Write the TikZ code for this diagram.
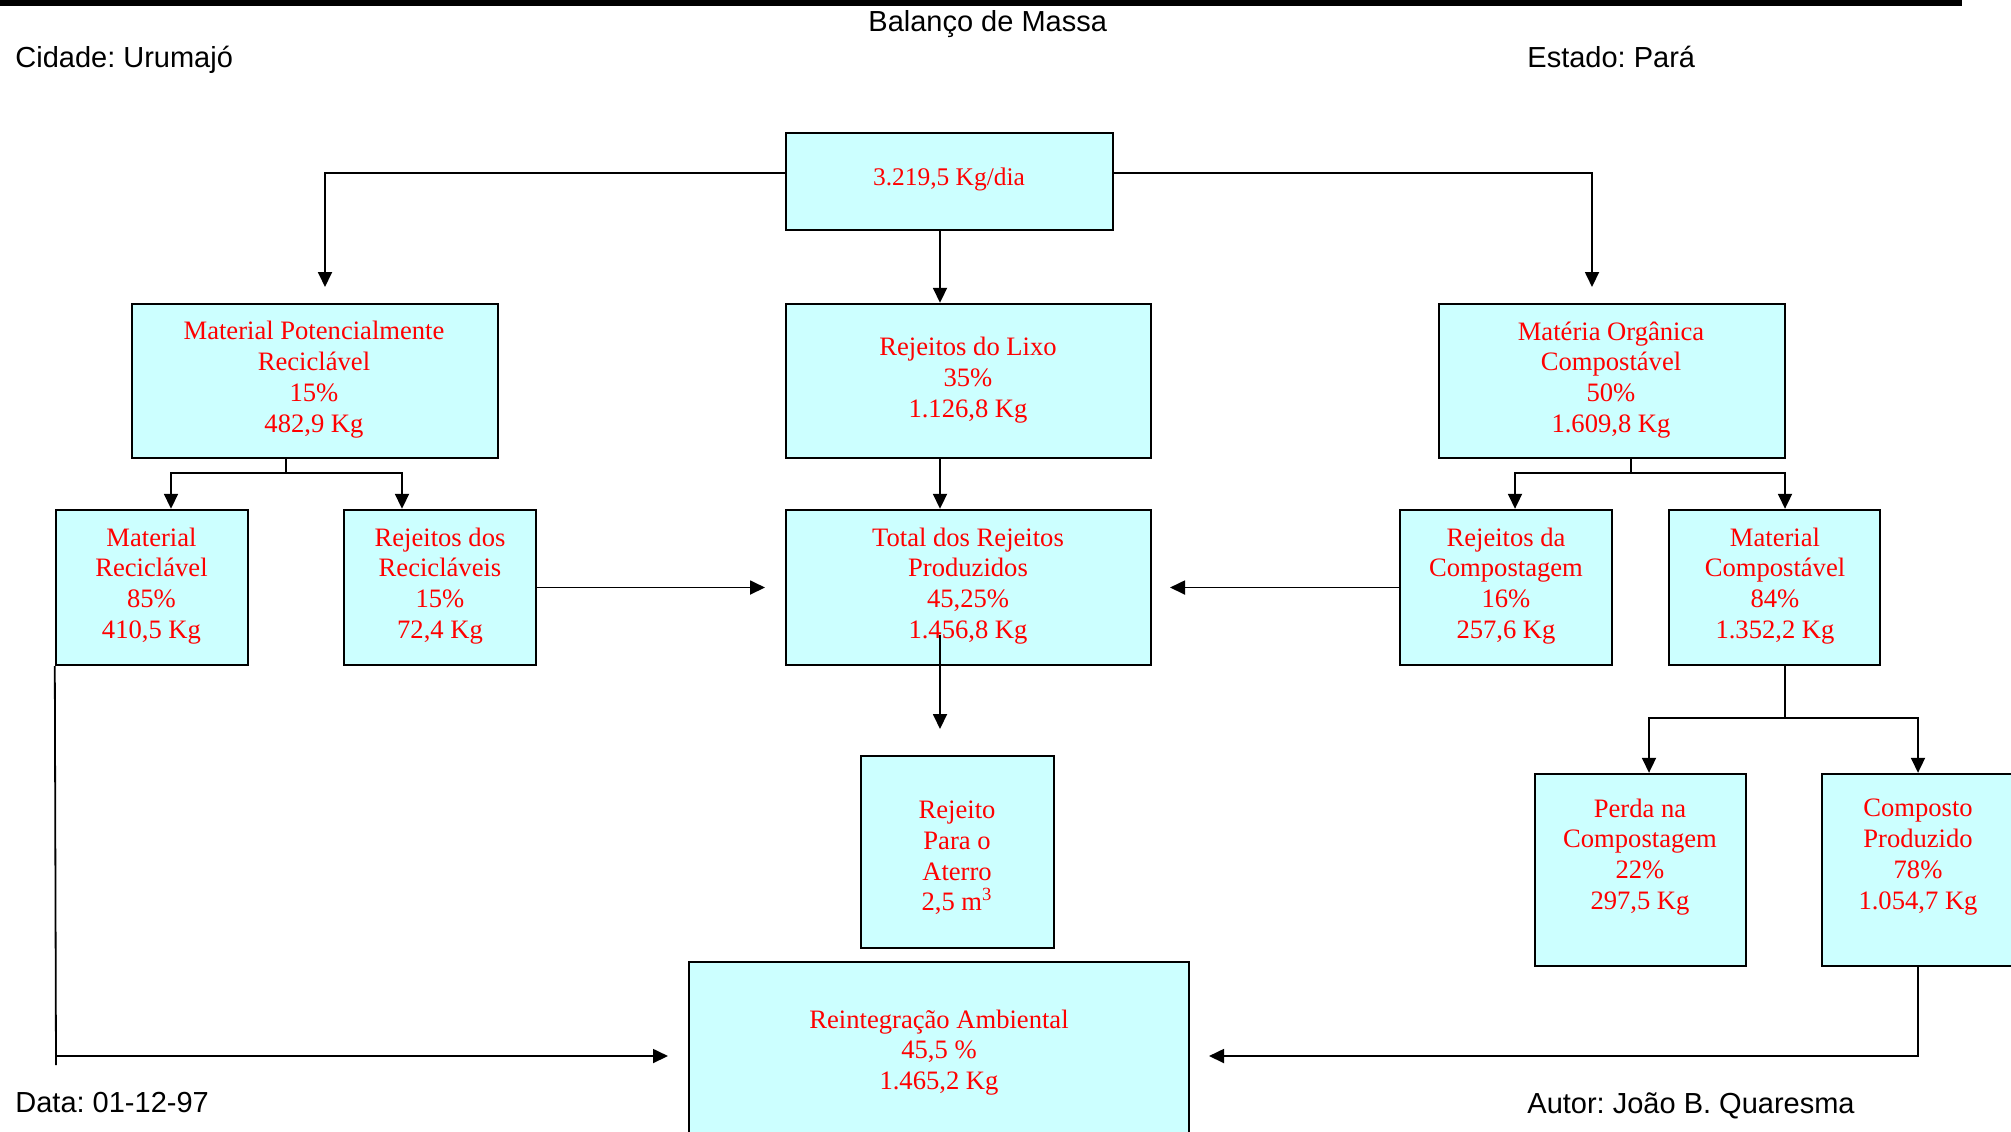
\documentclass[tikz,border=0pt]{standalone}
\usepackage{fontspec}
\setmainfont{Liberation Serif}
\newfontfamily\hdfont{Liberation Sans}
\usetikzlibrary{arrows.meta}
\definecolor{boxfill}{HTML}{CCFFFF}
\definecolor{boxtext}{HTML}{FF0000}
\frenchspacing
\begin{document}
\begin{tikzpicture}[x=0.5pt,y=-0.5pt,
  bx/.style 2 args={draw=black, line width=1.2pt, fill=boxfill, rectangle, inner sep=0pt,
     minimum width={#1*0.5pt}, minimum height={#2*0.5pt}},
  txt/.style={text=boxtext, align=center, font=\fontsize{13.3}{15.4}\selectfont, inner sep=0pt},
  hd/.style={font=\hdfont\fontsize{14.5}{17}\selectfont, inner sep=0pt, anchor=base west},
  conn/.style={line width=0.9pt},
  arr/.style={line width=0.9pt, -{Triangle[length=7.5pt,width=7pt]}}]
\useasboundingbox (0,0) rectangle (2011,1131);
\clip (0,0) rectangle (2011,1131);
\fill[white] (0,0) rectangle (2011,1131);
% top bar
\fill[black] (0,0) rectangle (1962,6);
% headers
\node[hd] (title) at (868,31) {Balanço de Massa};
\node[hd] (cidade) at (15,67) {Cidade: Urumajó};
\node[hd] (estado) at (1527,67) {Estado: Pará};
\node[hd] (data) at (15,1112) {Data: 01-12-97};
\node[hd] (autor) at (1527,1113) {Autor: João B. Quaresma};
% boxes
\node[bx={327}{97}] (top) at (949.5,181.5) {};
\node[bx={366}{154}] (mpr) at (315,381) {};
\node[bx={365}{154}] (rdl) at (968.5,381) {};
\node[bx={346}{154}] (moc) at (1612,381) {};
\node[bx={192}{155}] (mr) at (152,587.5) {};
\node[bx={192}{155}] (rdr) at (440,587.5) {};
\node[bx={365}{155}] (tot) at (968.5,587.5) {};
\node[bx={212}{155}] (rdc) at (1506,587.5) {};
\node[bx={211}{155}] (mc) at (1774.5,587.5) {};
\node[bx={193}{192}] (rpa) at (957.5,852) {};
\node[bx={211}{192}] (perda) at (1640.5,870) {};
\node[bx={196}{192}] (cp) at (1920,870) {};
\node[bx={500}{200}] (ra) at (939,1062) {};
% texts
\node[txt, font=\fontsize{12.7}{15}\selectfont] (top-t) at (949,179) {3.219,5 Kg/dia};
\node[txt] (mpr-t) at (314,379.5) {Material Potencialmente\\Reciclável\\15\%\\482,9 Kg};
\node[txt] (rdl-t) at (968,380) {Rejeitos do Lixo\\35\%\\1.126,8 Kg};
\node[txt] (moc-t) at (1611,380) {Matéria Orgânica\\Compostável\\50\%\\1.609,8 Kg};
\node[txt] (mr-t) at (151.5,586) {Material\\Reciclável\\85\%\\410,5 Kg};
\node[txt] (rdr-t) at (440,586) {Rejeitos dos\\Recicláveis\\15\%\\72,4 Kg};
\node[txt] (tot-t) at (968,586) {Total dos Rejeitos\\Produzidos\\45,25\%\\1.456,8 Kg};
\node[txt] (rdc-t) at (1506,586) {Rejeitos da\\Compostagem\\16\%\\257,6 Kg};
\node[txt] (mc-t) at (1775,586) {Material\\Compostável\\84\%\\1.352,2 Kg};
\node[txt] (rpa-t) at (957,858) {Rejeito\\Para o\\Aterro\\2,5 m\textsuperscript{3}};
\node[txt] (perda-t) at (1640,857) {Perda na\\Compostagem\\22\%\\297,5 Kg};
\node[txt] (cp-t) at (1918,857) {Composto\\Produzido\\78\%\\1.054,7 Kg};
\node[txt] (ra-t) at (939,1052.5) {Reintegração Ambiental\\45,5 \%\\1.465,2 Kg};
% free ends and junctions
\coordinate (t1) at (325,287);
\coordinate (t2) at (1592,287);
\coordinate (j1) at (286,473);
\coordinate (j2) at (1631,473);
\coordinate (j3) at (1785,718);
\coordinate (t3) at (765,587.5);
\coordinate (t4) at (1170,587.5);
\coordinate (s1) at (940,635);
\coordinate (t5) at (940,729);
\coordinate (c1) at (56,1056);
\coordinate (e1) at (56,1065);
\coordinate (t6) at (668,1056);
\coordinate (c2) at (1918,1056);
\coordinate (t7) at (1209,1056);
% connectors
\draw[arr] ([yshift=4.25pt]top.west) -| (t1);
\draw[arr] ([yshift=4.25pt]top.east) -| (t2);
\draw[arr] (940,0 |- top.south) -- (940,0 |- rdl.north);
\draw[conn] (286,0 |- mpr.south) -- (j1);
\draw[arr] (j1) -| (171,0 |- mr.north);
\draw[arr] (j1) -| (402,0 |- rdr.north);
\draw[conn] (1631,0 |- moc.south) -- (j2);
\draw[arr] (j2) -| (1515,0 |- rdc.north);
\draw[arr] (j2) -| (1785,0 |- mc.north);
\draw[arr] (940,0 |- rdl.south) -- (940,0 |- tot.north);
\draw[arr] (rdr.east) -- (t3);
\draw[arr] (rdc.west) -- (t4);
\draw[arr] (s1) -- (t5);
\draw[conn] (mr.south west) -- (e1);
\draw[arr] (c1) -- (t6);
\draw[conn] (1785,0 |- mc.south) -- (j3);
\draw[arr] (j3) -| (1649,0 |- perda.north);
\draw[arr] (j3) -| (1918,0 |- cp.north);
\draw[conn] (1918,0 |- cp.south) -- ([yshift=-0.5pt]c2);
\draw[arr] (c2) -- (t7);
\end{tikzpicture}
\end{document}
